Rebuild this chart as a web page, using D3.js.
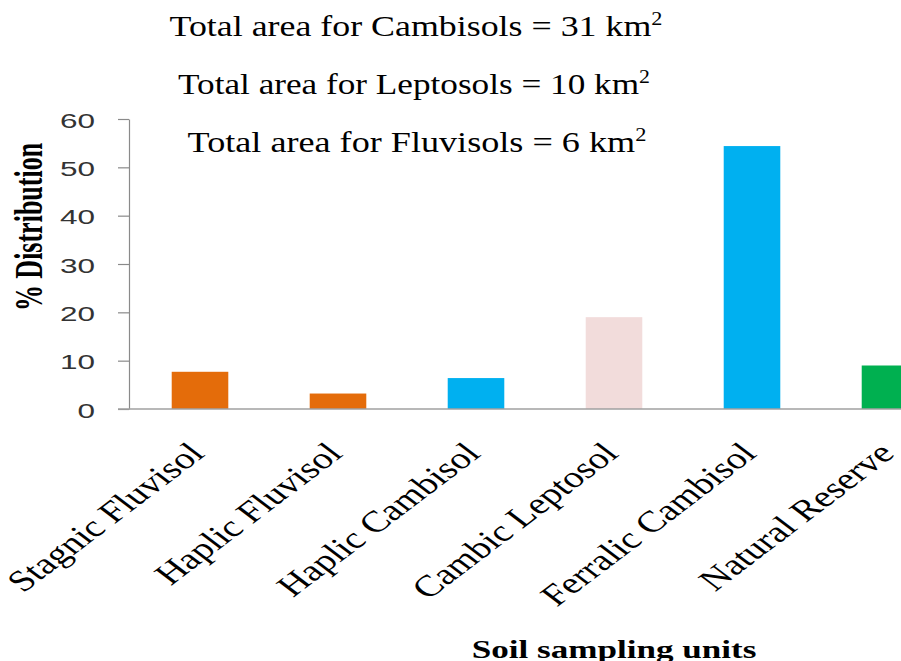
<!DOCTYPE html>
<html>
<head>
<meta charset="utf-8">
<script src="https://cdn.jsdelivr.net/npm/d3@7"></script>
<style>
  html, body { margin: 0; padding: 0; background: #fff; }
  svg { display: block; }
</style>
</head>
<body>
<svg id="chart" width="901" height="661"></svg>
<script>
// Soil sampling units and their share of the surveyed area (%)
const units = ["Stagnic Fluvisol", "Haplic Fluvisol", "Haplic Cambisol", "Cambic Leptosol", "Ferralic Cambisol", "Natural Reserve"];
const distribution = [7.7, 3.2, 6.4, 19.0, 54.4, 9.0];
const barColors = ["#E46C0A", "#E46C0A", "#00B0F0", "#F2DCDB", "#00B0F0", "#00B050"];
const yTicks = [0, 10, 20, 30, 40, 50, 60];
const areaNotes = [
  { soil: "Cambisols", area: "31" },
  { soil: "Leptosols", area: "10" },
  { soil: "Fluvisols", area: "6" }
];

const svg = d3.select("#chart");
const stretch = 1.5;           // horizontal stretch applied to the lettering
const labelStretch = 1.32;     // stretch for the rotated category labels
const serif = "'Liberation Serif', 'Times New Roman', serif";
const sans = "'Liberation Sans', Arial, sans-serif";

const x = d3.scaleBand().domain(units).range([131, 959]).paddingInner(0.59).paddingOuter(0.295);
const y = d3.scaleLinear().domain([0, 60]).range([409, 119]);

// Bars
svg.append("g").selectAll("rect")
  .data(units)
  .join("rect")
  .attr("x", d => x(d))
  .attr("width", x.bandwidth())
  .attr("y", (d, i) => y(distribution[i]))
  .attr("height", (d, i) => y(0) - y(distribution[i]))
  .attr("fill", (d, i) => barColors[i]);

// Y axis
const yAxis = svg.append("g")
  .attr("transform", "translate(129,0)")
  .call(d3.axisLeft(y).tickValues(yTicks).tickSize(11).tickSizeOuter(0).tickFormat(d3.format("d")));
yAxis.select(".domain").attr("stroke", "#8a8a8a").attr("stroke-width", 1.2);
yAxis.selectAll(".tick line").attr("stroke", "#8a8a8a").attr("stroke-width", 1.2);
yAxis.selectAll(".tick text")
  .attr("x", null).attr("dy", null)
  .attr("font-family", sans)
  .attr("font-size", 21)
  .attr("fill", "#333")
  .attr("text-anchor", "end")
  .attr("dominant-baseline", "central")
  .attr("transform", `translate(-34,1) scale(${stretch},1)`);

// X baseline (category axis without ticks)
svg.append("line")
  .attr("x1", 118).attr("x2", 901)
  .attr("y1", y(0)).attr("y2", y(0))
  .attr("stroke", "#a0a0a0").attr("stroke-width", 1.6);

// Category labels, rotated
svg.append("g").selectAll("text")
  .data(units)
  .join("text")
  .attr("transform", d => `translate(${x(d) + x.bandwidth() / 2 + 6},455) scale(${labelStretch},1) rotate(-45)`)
  .attr("text-anchor", "end")
  .attr("font-family", serif)
  .attr("font-size", 30)
  .attr("fill", "#000")
  .text(d => d);

// Axis titles
svg.append("text")
  .attr("transform", `translate(42,227) scale(${stretch},1) rotate(-90)`)
  .attr("text-anchor", "middle")
  .attr("font-family", serif)
  .attr("font-weight", "bold")
  .attr("font-size", 26)
  .attr("fill", "#000")
  .text("% Distribution");

svg.append("text")
  .attr("transform", `translate(614,658) scale(1.35,1)`)
  .attr("text-anchor", "middle")
  .attr("font-family", serif)
  .attr("font-weight", "bold")
  .attr("font-size", 26)
  .attr("fill", "#000")
  .text("Soil sampling units");

// Area notes, each stretched to its line width
const noteLayout = [
  { cx: 416, base: 36, width: 493 },
  { cx: 414, base: 94, width: 472 },
  { cx: 417, base: 152, width: 459 }
];
areaNotes.forEach((n, i) => {
  const L = noteLayout[i];
  const t = svg.append("text")
    .attr("text-anchor", "middle")
    .attr("font-family", serif)
    .attr("font-size", 29)
    .attr("fill", "#000");
  t.append("tspan").text(`Total area for ${n.soil} = ${n.area} km`);
  t.append("tspan").attr("font-size", 18).attr("dy", -11).text("2");
  const w = t.node().getBBox().width;
  t.attr("transform", `translate(${L.cx},${L.base}) scale(${L.width / w},1)`);
});
</script>
</body>
</html>
